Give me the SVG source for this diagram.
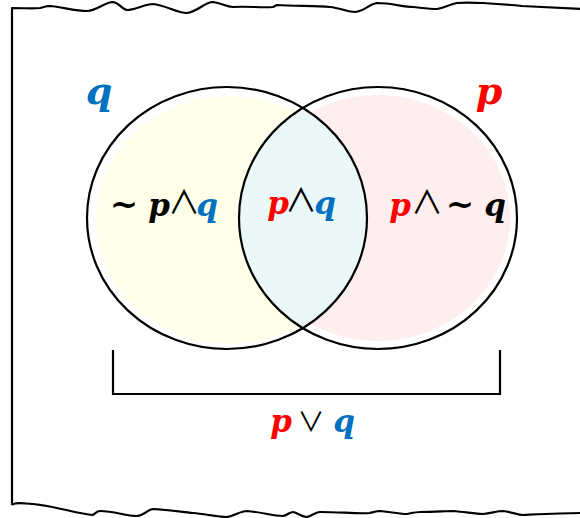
<svg xmlns="http://www.w3.org/2000/svg" width="580" height="518" viewBox="0 0 580 518">
<style>
.frame{fill:none;stroke:#000;stroke-width:2.2;stroke-linejoin:round}
.circ{fill:none;stroke:#000;stroke-width:2.2}
text{text-anchor:middle}
.lbl{font-family:"DejaVu Serif","Liberation Serif",serif;font-weight:bold;font-style:italic;font-size:31px}
.big{font-size:38px}
.tl{font-family:"DejaVu Serif","Liberation Serif",serif;font-weight:bold;font-style:normal;font-size:34px;fill:#000}
.op{font-family:"Noto Sans CJK JP","DejaVu Sans",sans-serif;font-weight:normal;font-style:normal;fill:#000;font-size:32px}
.op2{font-family:"Noto Sans CJK JP","DejaVu Sans",sans-serif;font-weight:normal;font-style:normal;fill:#000;font-size:27px}
.r{fill:#FF0000}.b{fill:#0070C0}.k{fill:#000}
</style>
<defs>
<clipPath id="clipL"><ellipse cx="227" cy="218" rx="140" ry="131"/></clipPath>
</defs>
<rect width="580" height="518" fill="#fff"/>
<path class="frame" d="M12,505 L12,8 C25,8 32,9 40,8 C44,7 46,6 50,6 C62,7 75,11 87,11 C98,10 105,2 113,2 C120,3 122,10 128,10 C138,9 145,4 153,4 C165,5 177,13 187,13 C198,12 204,2 213,2 C222,3 226,7 233,7 C248,6 262,8 273,7 L277,5 C295,6 315,6 330,7 C340,8 348,12 355,12 C365,11 369,4 377,3 C392,3 403,7 413,7 C423,8 430,9 437,9 C445,8 450,4 457,3 C468,2 476,3 483,3 C500,4 512,5 522,6 C545,7 565,8 582,9"/>
<path class="frame" d="M12,505 C15,502 22,503 33,504 C55,506 78,514 93,515 C96,513 97,511 100,511 C115,511 125,516 137,516 C145,515 148,509 153,509 C170,510 182,512 193,513 C205,514 218,517 227,517 C235,516 240,511 247,511 C262,512 272,516 283,516 C288,515 290,512 293,512 C298,513 302,517 307,517 C312,516 316,512 320,512 C340,512 358,514 370,513 C374,512 377,511 380,511 C392,512 400,514 407,514 C412,513 416,512 420,512 C435,512 445,511 453,511 C466,512 475,514 483,514 C492,513 497,511 503,511 C512,512 518,515 523,515 C545,514 565,513 582,513"/>
<g id="fills">
<ellipse cx="229" cy="220" rx="133" ry="124" fill="#FFFFEA"/>
<ellipse cx="378" cy="218" rx="132" ry="123" fill="#FFEEEE"/>
<ellipse cx="378" cy="218" rx="139" ry="131" fill="#EAF8F8" clip-path="url(#clipL)"/>
</g>
<g id="node-q">
<ellipse class="circ" cx="227" cy="218" rx="140" ry="131"/>
<text class="lbl big b" x="99" y="104">q</text>
<text class="lbl k" y="216"><tspan class="tl" x="124">~</tspan><tspan x="159">p</tspan><tspan class="op" x="184" y="214">∧</tspan><tspan class="b" x="207" y="216">q</tspan></text>
</g>
<g id="node-p">
<ellipse class="circ" cx="378" cy="218" rx="139" ry="131"/>
<text class="lbl big r" x="489" y="104">p</text>
<text class="lbl r" y="216"><tspan x="400">p</tspan><tspan class="op" x="427" y="214">∧</tspan><tspan class="tl" x="460" y="216">~</tspan><tspan class="k" x="495">q</tspan></text>
</g>
<g id="node-pq">
<text class="lbl r" y="214"><tspan x="278">p</tspan><tspan class="op" x="301" y="212">∧</tspan><tspan class="b" x="325" y="214">q</tspan></text>
</g>
<g id="connectors">
<path d="M113,350 L113,394 L500,394 L500,350" fill="none" stroke="#000" stroke-width="2.2"/>
</g>
<g id="node-or">
<text class="lbl r" y="432"><tspan x="281">p</tspan><tspan class="op2" x="311">∨</tspan><tspan class="b" x="344">q</tspan></text>
</g>
</svg>
